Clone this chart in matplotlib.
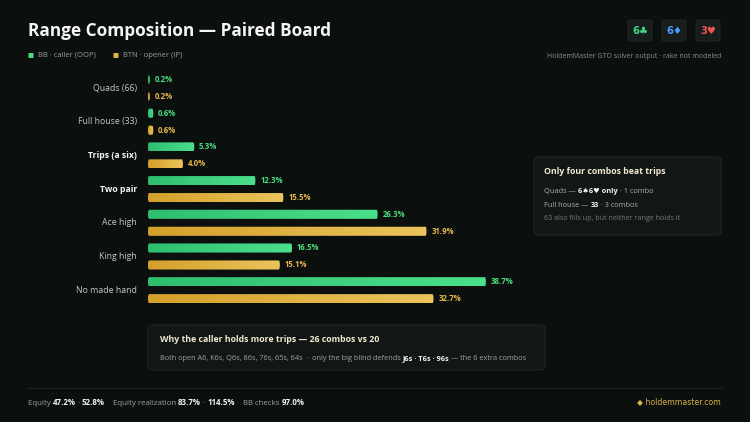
import matplotlib
matplotlib.use("Agg")
import matplotlib.pyplot as plt
import numpy as np
from matplotlib.patches import FancyBboxPatch
from matplotlib.colors import LinearSegmentedColormap

categories = ["Quads (66)", "Full house (33)", "Trips (a six)", "Two pair",
              "Ace high", "King high", "No made hand"]
bb_values = [0.2, 0.6, 5.3, 12.3, 26.3, 16.5, 38.7]
btn_values = [0.2, 0.6, 4.0, 15.5, 31.9, 15.1, 32.7]
bold_categories = ["Trips (a six)", "Two pair"]
series_names = ["BB · caller (OOP)", "BTN · opener (IP)"]
board_cards = [("6", "♣"), ("6", "♦"), ("3", "♥")]

BG = "#0b0f0e"
GREEN = "#3fd884"
ORANGE = "#e2b443"
W, H = 750, 422
FAM = ["Open Sans", "DejaVu Sans"]

fig = plt.figure(figsize=(7.5, 4.22), dpi=100, facecolor=BG)

def fx(x):
    return x / W

def fy(y):
    return 1 - y / H

ax = fig.add_axes([148 / W, 1 - 310.4 / H, 45 * 8.73 / W, 242.6 / H])
ax.set_facecolor(BG)
ax.set_xlim(0, 45)
ax.set_ylim(6.6, -0.6)
ax.axis("off")

y = np.arange(len(categories))
off = 0.252
h = 0.27
b1 = ax.barh(y - off, bb_values, height=h, color=GREEN)
b2 = ax.barh(y + off, btn_values, height=h, color=ORANGE)

cm_g = LinearSegmentedColormap.from_list("g", ["#2fbd70", "#4be08c"])
cm_o = LinearSegmentedColormap.from_list("o", ["#d4a02a", "#ebc45c"])
grad = np.linspace(0, 1, 256).reshape(1, -1)
for bars, cmap in ((b1, cm_g), (b2, cm_o)):
    for bar in bars:
        x0, y0 = bar.get_x(), bar.get_y()
        bw, bh = bar.get_width(), bar.get_height()
        bar.set_visible(False)
        p = FancyBboxPatch((x0, y0), bw, bh,
                           boxstyle="round,pad=0,rounding_size=0.12",
                           mutation_aspect=1.0,
                           facecolor="none", edgecolor="none")
        ax.add_patch(p)
        im = ax.imshow(grad, cmap=cmap, aspect="auto",
                       extent=(x0, x0 + bw, y0 + bh, y0), zorder=2)
        im.set_clip_path(p)

for bar, v in zip(b1, bb_values):
    ax.text(bar.get_width() + 0.55, bar.get_y() + bar.get_height() / 2,
            f"{v:.1f}%", color="#4ade80", fontsize=5.6, fontweight="bold",
            va="center", ha="left", family=FAM)
for bar, v in zip(b2, btn_values):
    ax.text(bar.get_width() + 0.55, bar.get_y() + bar.get_height() / 2,
            f"{v:.1f}%", color="#e8b84a", fontsize=5.6, fontweight="bold",
            va="center", ha="left", family=FAM)

for i, c in enumerate(categories):
    bold = c in bold_categories
    ax.text(-1.25, i, c, ha="right", va="center", fontsize=6.3,
            color="#f4f4f4" if bold else "#c3c8c6",
            fontweight="bold" if bold else "normal", family=FAM)

# Title and legend
fig.text(fx(28), fy(31), "Range Composition — Paired Board", fontsize=12.4,
         fontweight="bold", color="#f5f5f5", va="center", ha="left", family=FAM)

renderer = fig.canvas.get_renderer()

def seq(x, yy, parts, size, family=FAM):
    # yy is the visual centre; place all pieces on a common baseline
    base = yy + size * 0.5
    for txt, weight, color in parts:
        t = fig.text(fx(x), fy(base), txt, fontsize=size, fontweight=weight,
                     color=color, va="baseline", ha="left", family=family)
        bb = t.get_window_extent(renderer=renderer)
        x += bb.width
    return x

def square(x, yy, color, s=5):
    fig.patches.append(FancyBboxPatch((fx(x - s / 2), fy(yy + s / 2)), s / W, s / H,
                                      boxstyle="round,pad=0,rounding_size=0.001",
                                      transform=fig.transFigure, facecolor=color,
                                      edgecolor="none"))

square(31, 55.5, "#4ade80")
fig.text(fx(38), fy(55.5), series_names[0], fontsize=5.5, color="#9aa09e",
         va="center", family=FAM)
square(116, 55.5, "#e2b443")
fig.text(fx(123), fy(55.5), series_names[1], fontsize=5.5, color="#9aa09e",
         va="center", family=FAM)

fig.text(fx(721), fy(56), "HoldemMaster GTO solver output · rake not modeled",
         fontsize=5.0, color="#8a908e", va="center", ha="right", family=FAM)

# Board chips
chip_colors = ["#3ddc84", "#4a9eff", "#f05555"]
for k, ((rank, suit), col) in enumerate(zip(board_cards, chip_colors)):
    x0 = 628 + k * 34
    fig.patches.append(FancyBboxPatch((fx(x0), fy(41)), 24 / W, 21 / H,
                                      boxstyle="round,pad=0,rounding_size=0.004",
                                      transform=fig.transFigure,
                                      facecolor="#161d1b", edgecolor="#222a27", lw=0.6))
    fig.text(fx(x0 + 12), fy(30.5), rank + suit, fontsize=7.2, fontweight="bold",
             color=col, ha="center", va="center", family=["DejaVu Sans"])

def box(x0, y0, x1, y1):
    fig.patches.append(FancyBboxPatch((fx(x0), fy(y1)), (x1 - x0) / W, (y1 - y0) / H,
                                      boxstyle="round,pad=0,rounding_size=0.008",
                                      transform=fig.transFigure,
                                      facecolor="#111714", edgecolor="#1e2623", lw=0.8))

# Right callout
box(534, 157, 721, 235)
fig.text(fx(544), fy(172), "Only four combos beat trips", fontsize=6.3,
         fontweight="bold", color="#f2ead2", va="center", family=FAM)
seq(544, 190, [("Quads — ", "normal", "#a9afad"), ("6♠6♥ only", "bold", "#f2f2f2"),
               (" · 1 combo", "normal", "#a9afad")], 5.3)
seq(544, 204.5, [("Full house — ", "normal", "#a9afad"), ("33", "bold", "#f2f2f2"),
                 (" · 3 combos", "normal", "#a9afad")], 5.3)
fig.text(fx(544), fy(219), "63 also fills up, but neither range holds it", fontsize=5.1,
         color="#737a78", va="center", family=FAM)

# Bottom callout
box(148, 325, 545, 370)
fig.text(fx(160), fy(340), "Why the caller holds more trips — 26 combos vs 20", fontsize=6.3,
         fontweight="bold", color="#f2ead2", va="center", family=FAM)
seq(160, 357, [("Both open A6, K6s, Q6s, 86s, 76s, 65s, 64s  ·  only the big blind defends ",
                "normal", "#9ea4a2"),
               ("J6s · T6s · 96s", "bold", "#f2f2f2"),
               (" — the 6 extra combos", "normal", "#9ea4a2")], 5.3)

# Footer
fig.add_artist(plt.Line2D([fx(28), fx(722)], [fy(388), fy(388)], color="#1c2321",
                          lw=0.8, transform=fig.transFigure))
seq(28, 402, [("Equity ", "normal", "#9ea4a2"), ("47.2%", "bold", "#f2f2f2"),
              (" · ", "normal", "#9ea4a2"), ("52.8%", "bold", "#f2f2f2"),
              ("    Equity realization ", "normal", "#9ea4a2"), ("83.7%", "bold", "#f2f2f2"),
              (" · ", "normal", "#9ea4a2"), ("114.5%", "bold", "#f2f2f2"),
              ("    BB checks ", "normal", "#9ea4a2"), ("97.0%", "bold", "#f2f2f2")], 5.7)
fig.text(fx(721), fy(402), "◆ holdemmaster.com", fontsize=5.6, color="#d9b04a",
         ha="right", va="center", family=["DejaVu Sans"])

fig.savefig("out.png", dpi=100, facecolor=BG)
